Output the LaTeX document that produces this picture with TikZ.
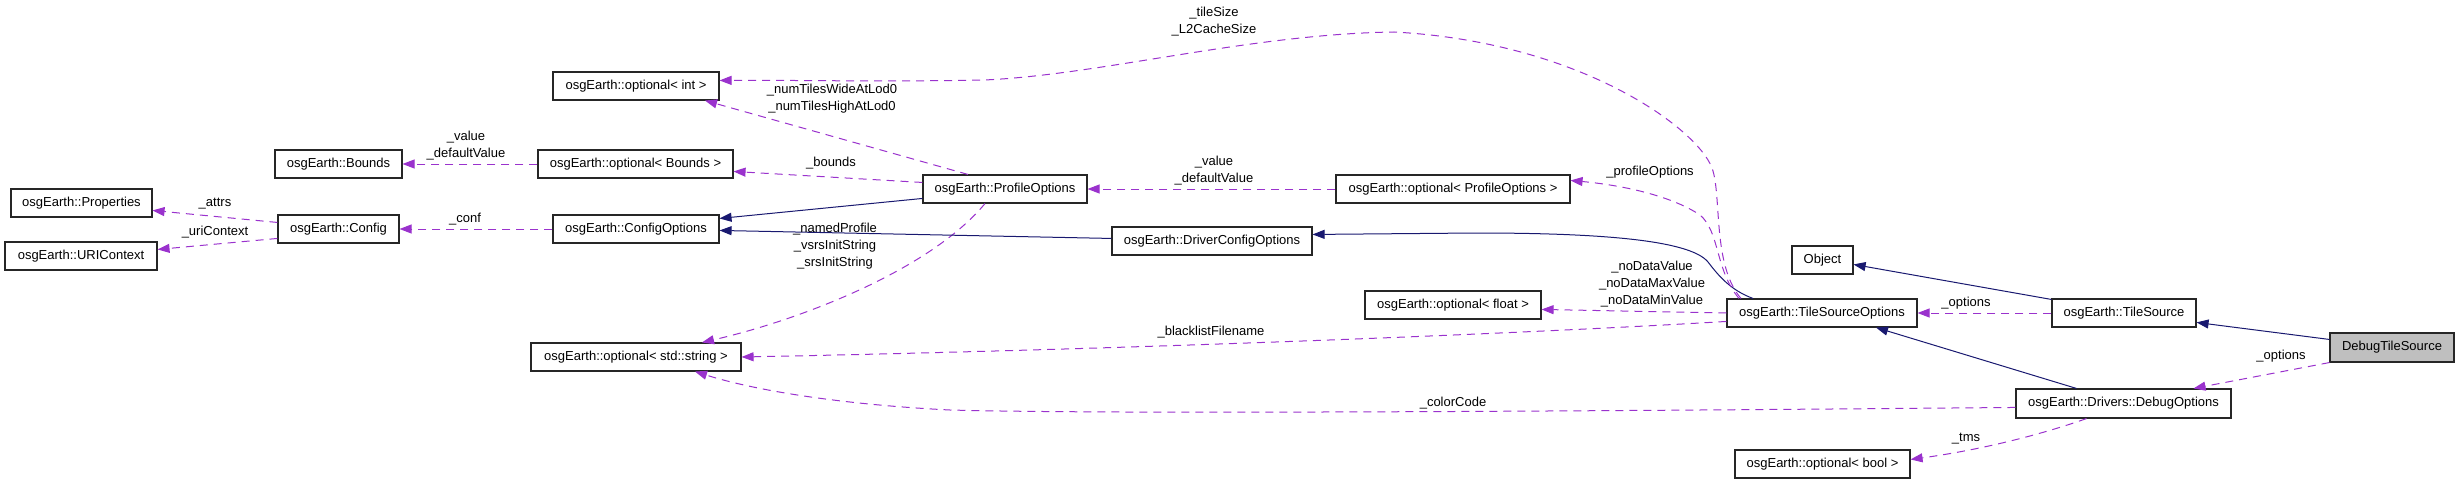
\documentclass[tikz,border=0pt]{standalone}
\usepackage{fontspec}
\setmainfont{Liberation Sans}
\usetikzlibrary{arrows.meta}
\definecolor{navy}{HTML}{191970}
\definecolor{orch}{HTML}{9A32CD}
\definecolor{dgrey}{HTML}{BFBFBF}
\newcommand\dfont{\fontsize{13}{17}\selectfont}
\tikzset{
  box/.style={draw=black!85, line width=1.1pt, fill=white, minimum height=28pt, inner sep=0pt, font=\dfont},
  lbl/.style={inner sep=0pt, align=center, font=\dfont},
  inh/.style={draw=navy, line width=1pt, -{Triangle[length=12pt,width=9pt,fill=navy]}},
  uses/.style={draw=orch, line width=1pt, dash pattern=on 8pt off 6pt, -{Triangle[length=12pt,width=9pt,fill=orch]}}
}
\begin{document}
\begin{tikzpicture}[x=1pt,y=-1pt]
\useasboundingbox (0,0) rectangle (2459,484);
% nodes
\node[box, minimum width=141pt] (prop) at (81.5,203) {osgEarth::Properties};
\node[box, minimum width=152pt] (uri) at (81,256) {osgEarth::URIContext};
\node[box, minimum width=121pt] (config) at (338.5,229) {osgEarth::Config};
\node[box, minimum width=127pt] (bounds) at (338.5,164) {osgEarth::Bounds};
\node[box, minimum width=166pt] (optint) at (636,86) {osgEarth::optional< int >};
\node[box, minimum width=195pt] (optbounds) at (635.5,164) {osgEarth::optional< Bounds >};
\node[box, minimum width=166pt] (cfgopt) at (636,229) {osgEarth::ConfigOptions};
\node[box, minimum width=210pt] (optstr) at (636,357) {osgEarth::optional< std::string >};
\node[box, minimum width=164pt] (profopt) at (1005,189) {osgEarth::ProfileOptions};
\node[box, minimum width=200pt] (drvcfg) at (1212,241) {osgEarth::DriverConfigOptions};
\node[box, minimum width=234pt] (optprof) at (1453,189) {osgEarth::optional< ProfileOptions >};
\node[box, minimum width=176pt] (optfloat) at (1453,305) {osgEarth::optional< float >};
\node[box, minimum width=61pt] (object) at (1822.5,260) {Object};
\node[box, minimum width=190pt] (tso) at (1822,313) {osgEarth::TileSourceOptions};
\node[box, minimum width=175pt] (optbool) at (1822.5,464) {osgEarth::optional< bool >};
\node[box, minimum width=144pt] (tilesrc) at (2124,313) {osgEarth::TileSource};
\node[box, minimum width=215pt, minimum height=29pt] (debugopt) at (2123.5,403.5) {osgEarth::Drivers::DebugOptions};
\node[box, minimum width=124pt, minimum height=29pt, fill=dgrey] (dts) at (2392,347.5) {DebugTileSource};
% connectors
\draw[uses] ([yshift=-8pt]config.north west) -- ([yshift=-22pt]prop.north east);
\draw[uses] ([yshift=-24pt]config.north west) -- ([yshift=-8pt]uri.north east);
\draw[uses] (cfgopt.west) -- (config.east);
\draw[uses] (optbounds.west) -- (bounds.east);
\draw[uses] ([xshift=-37pt]profopt.north) -- ([xshift=69pt]optint.south);
\draw[uses] ([yshift=-8pt]profopt.north west) -- ([yshift=-22pt]optbounds.north east);
\draw[inh] ([yshift=-24pt]profopt.north west) -- ([yshift=-4pt]cfgopt.north east);
\draw[uses] ([xshift=-20pt]profopt.south) .. controls (930,270) and (800,320) .. ([xshift=66pt]optstr.north);
\draw[inh] ([yshift=-12pt]drvcfg.north west) -- ([yshift=-16pt]cfgopt.north east);
\draw[uses] (optprof.west) -- (profopt.east);
\draw[inh] ([xshift=-69pt]tso.north) .. controls (1730,290) and (1718,275) .. (1708,262)
  .. controls (1690,240) and (1600,233) .. (1476,233) -- ([yshift=-8pt]drvcfg.north east);
\draw[uses] ([xshift=-81pt]tso.north) .. controls (1712,265) and (1722,195) .. (1712,168)
  .. controls (1697,128) and (1580,42) .. (1394,32)
  .. controls (1250,34) and (1100,75) .. (984,80)
  .. controls (880,82) and (800,80) .. ([yshift=-9pt]optint.north east);
\draw[uses] ([xshift=-83pt]tso.north) .. controls (1715,270) and (1720,232) .. (1700,215)
  .. controls (1670,195) and (1620,185) .. ([yshift=-6pt]optprof.north east);
\draw[uses] (tso.west) -- ([yshift=-19pt]optfloat.north east);
\draw[uses] ([yshift=-23pt]tso.north west) .. controls (1500,335) and (1100,350) .. (optstr.east);
\draw[uses] (tilesrc.west) -- (tso.east);
\draw[inh] ([yshift=-1pt]tilesrc.north west) -- ([yshift=-19pt]object.north east);
\draw[inh] ([xshift=-47pt]debugopt.north) -- ([xshift=54pt]tso.south);
\draw[uses] ([yshift=-19pt]debugopt.north west) .. controls (1500,412) and (1100,414) .. (950,410)
  .. controls (850,405) and (760,392) .. ([xshift=59pt]optstr.south);
\draw[uses] ([xshift=-37pt]debugopt.south) .. controls (2040,435) and (1980,450) .. ([yshift=-10pt]optbool.north east);
\draw[inh] ([yshift=-7pt]dts.north west) -- ([yshift=-24pt]tilesrc.north east);
\draw[uses] (dts.south west) -- ([xshift=70pt]debugopt.north);
% labels
\node[lbl] (lattrs) at (215,204) {\_attrs};
\node[lbl] (luri) at (215,232) {\_uriContext};
\node[lbl] (lconf) at (465,219) {\_conf};
\node[lbl] (lbval) at (466,145.5) {\_value\\\_defaultValue};
\node[lbl] (lnum) at (832,99) {\_numTilesWideAtLod0\\\_numTilesHighAtLod0};
\node[lbl] (lbounds) at (831,163) {\_bounds};
\node[lbl] (lnamed) at (835,246.5) {\_namedProfile\\\_vsrsInitString\\\_srsInitString};
\node[lbl] (lpval) at (1214,171) {\_value\\\_defaultValue};
\node[lbl] (ltile) at (1214,21.5) {\_tileSize\\\_L2CacheSize};
\node[lbl] (lprof) at (1650,172) {\_profileOptions};
\node[lbl] (lnodata) at (1652,284) {\_noDataValue\\\_noDataMaxValue\\\_noDataMinValue};
\node[lbl] (lblack) at (1211,332) {\_blacklistFilename};
\node[lbl] (lopt1) at (1966,303) {\_options};
\node[lbl] (lcolor) at (1453,403) {\_colorCode};
\node[lbl] (ltms) at (1966,439) {\_tms};
\node[lbl] (lopt2) at (2281,356) {\_options};
\end{tikzpicture}
\end{document}
